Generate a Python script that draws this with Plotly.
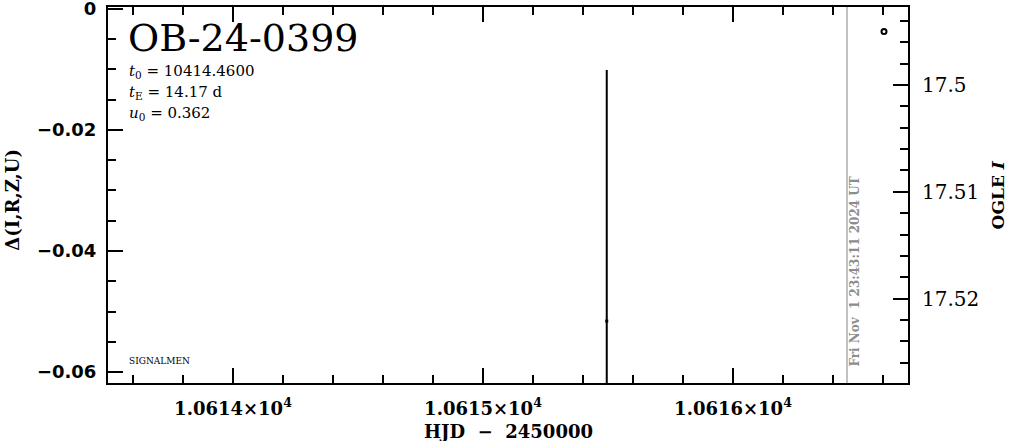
import plotly.graph_objects as go

# ---- data ----
event_name = "OB-24-0399"
t0_text = "10414.4600"
tE_text = "14.17 d"
u0_text = "0.362"
stamp_text = "Fri Nov  1 23:43:11 2024 UT"

ogle_hjd = [10615.495]
ogle_mag = [17.5221]
ogle_err = [0.0234]

base_hjd = [10616.604]
base_mag = [17.4950]

now_hjd = 10616.456

x_range = [10613.5, 10616.7]
dmag_range = [-0.0618, 0.0003]
mag_range = [17.5279, 17.4927]
x_ticks = [10614, 10615, 10616]
x_ticktext = ["1.0614×10<sup>4</sup>", "1.0615×10<sup>4</sup>", "1.0616×10<sup>4</sup>"]

serif = "DejaVu Serif"
sans = "DejaVu Sans"

fig = go.Figure()

fig.add_trace(go.Scatter(
    x=ogle_hjd, y=ogle_mag, yaxis="y2", mode="markers",
    marker=dict(color="black", size=3, symbol="square"),
    error_y=dict(type="data", array=ogle_err, color="black", thickness=2, width=1),
    showlegend=False, hoverinfo="skip"))

fig.add_trace(go.Scatter(
    x=base_hjd, y=base_mag, yaxis="y2", mode="markers",
    marker=dict(color="black", size=5, symbol="circle-open", line=dict(width=2, color="black")),
    showlegend=False, hoverinfo="skip"))

# invisible trace to anchor left axis
fig.add_trace(go.Scatter(x=[x_range[0]], y=[dmag_range[0]], mode="markers",
                         marker=dict(opacity=0), showlegend=False, hoverinfo="skip"))

fig.add_shape(type="line", xref="x", yref="paper", x0=now_hjd, x1=now_hjd, y0=0, y1=1,
              line=dict(color="#999999", width=1.2))

annotations = [
    dict(text=event_name, xref="paper", yref="paper", x=0.022, y=0.918, xanchor="left", yanchor="middle",
         showarrow=False, font=dict(family=serif, size=38, color="black")),
    dict(text="<i>t</i><sub>0</sub> = " + t0_text, xref="paper", yref="paper", x=0.024, y=0.829,
         xanchor="left", yanchor="middle", showarrow=False, font=dict(family=serif, size=15, color="black")),
    dict(text="<i>t</i><sub>E</sub> = " + tE_text, xref="paper", yref="paper", x=0.024, y=0.773,
         xanchor="left", yanchor="middle", showarrow=False, font=dict(family=serif, size=15, color="black")),
    dict(text="<i>u</i><sub>0</sub> = " + u0_text, xref="paper", yref="paper", x=0.024, y=0.717,
         xanchor="left", yanchor="middle", showarrow=False, font=dict(family=serif, size=15, color="black")),
    dict(text="SIGNALMEN", xref="paper", yref="paper", x=0.024, y=0.058, xanchor="left", yanchor="middle",
         showarrow=False, font=dict(family=serif, size=9, color="black")),
    dict(text=stamp_text, xref="x", yref="paper", x=now_hjd + 0.034, y=0.295, xanchor="center",
         yanchor="middle", textangle=-90, showarrow=False,
         font=dict(family=serif, size=12, color="#8c8c8c", weight="bold")),
    dict(text="Δ(I,R,Z,U)", xref="paper", yref="paper", x=-0.119, y=0.487, xanchor="center",
         yanchor="middle", textangle=-90, showarrow=False,
         font=dict(family=serif, size=18, color="black", weight="bold")),
    dict(text="OGLE <i>I</i>", xref="paper", yref="paper", x=1.113, y=0.5, xanchor="center",
         yanchor="middle", textangle=-90, showarrow=False,
         font=dict(family=serif, size=17, color="black", weight="bold")),
    dict(text="HJD  −  2450000", xref="paper", yref="paper", x=0.5, y=-0.13, xanchor="center",
         yanchor="middle", showarrow=False,
         font=dict(family=serif, size=18, color="black", weight="bold")),
]

fig.update_layout(
    width=1011, height=441,
    margin=dict(l=108, r=103, t=7, b=58, autoexpand=False),
    paper_bgcolor="white", plot_bgcolor="white",
    showlegend=False,
    annotations=annotations,
    xaxis=dict(range=x_range, tickmode="array", tickvals=x_ticks, ticktext=x_ticktext,
               ticks="inside", ticklen=15, tickwidth=2, tickcolor="black",
               showline=True, linecolor="black", linewidth=2, mirror="ticks",
               showgrid=False, zeroline=False, ticklabelstandoff=8, ticklabeloverflow="allow",
               tickfont=dict(family=serif, size=18, color="black", weight="bold"),
               minor=dict(tick0=10614, dtick=0.2, ticks="inside", ticklen=8, tickwidth=2,
                          tickcolor="black", showgrid=False)),
    yaxis=dict(range=dmag_range, tick0=0, dtick=0.02, ticks="inside", ticklen=15, tickwidth=2,
               tickcolor="black", showline=True, linecolor="black", linewidth=2, mirror=False,
               showgrid=False, zeroline=False, ticklabelstandoff=6, ticklabeloverflow="allow",
               tickfont=dict(family=sans, size=18, color="black", weight="bold"),
               minor=dict(tick0=0, dtick=0.005, ticks="inside", ticklen=8, tickwidth=2,
                          tickcolor="black", showgrid=False)),
    yaxis2=dict(range=mag_range, overlaying="y", side="right", anchor="x",
                tick0=17.5, dtick=0.01, ticks="inside", ticklen=15, tickwidth=2, tickcolor="black",
                showline=True, linecolor="black", linewidth=2, showgrid=False, zeroline=False,
                ticklabelstandoff=8, ticklabeloverflow="allow",
                tickfont=dict(family=serif, size=20, color="black"),
                minor=dict(tick0=17.5, dtick=0.002, ticks="inside", ticklen=8, tickwidth=2,
                           tickcolor="black", showgrid=False)),
)

fig.write_html("out.html", config={"displayModeBar": False},
               post_script="document.body.style.margin='0';document.body.style.overflow='hidden';")
